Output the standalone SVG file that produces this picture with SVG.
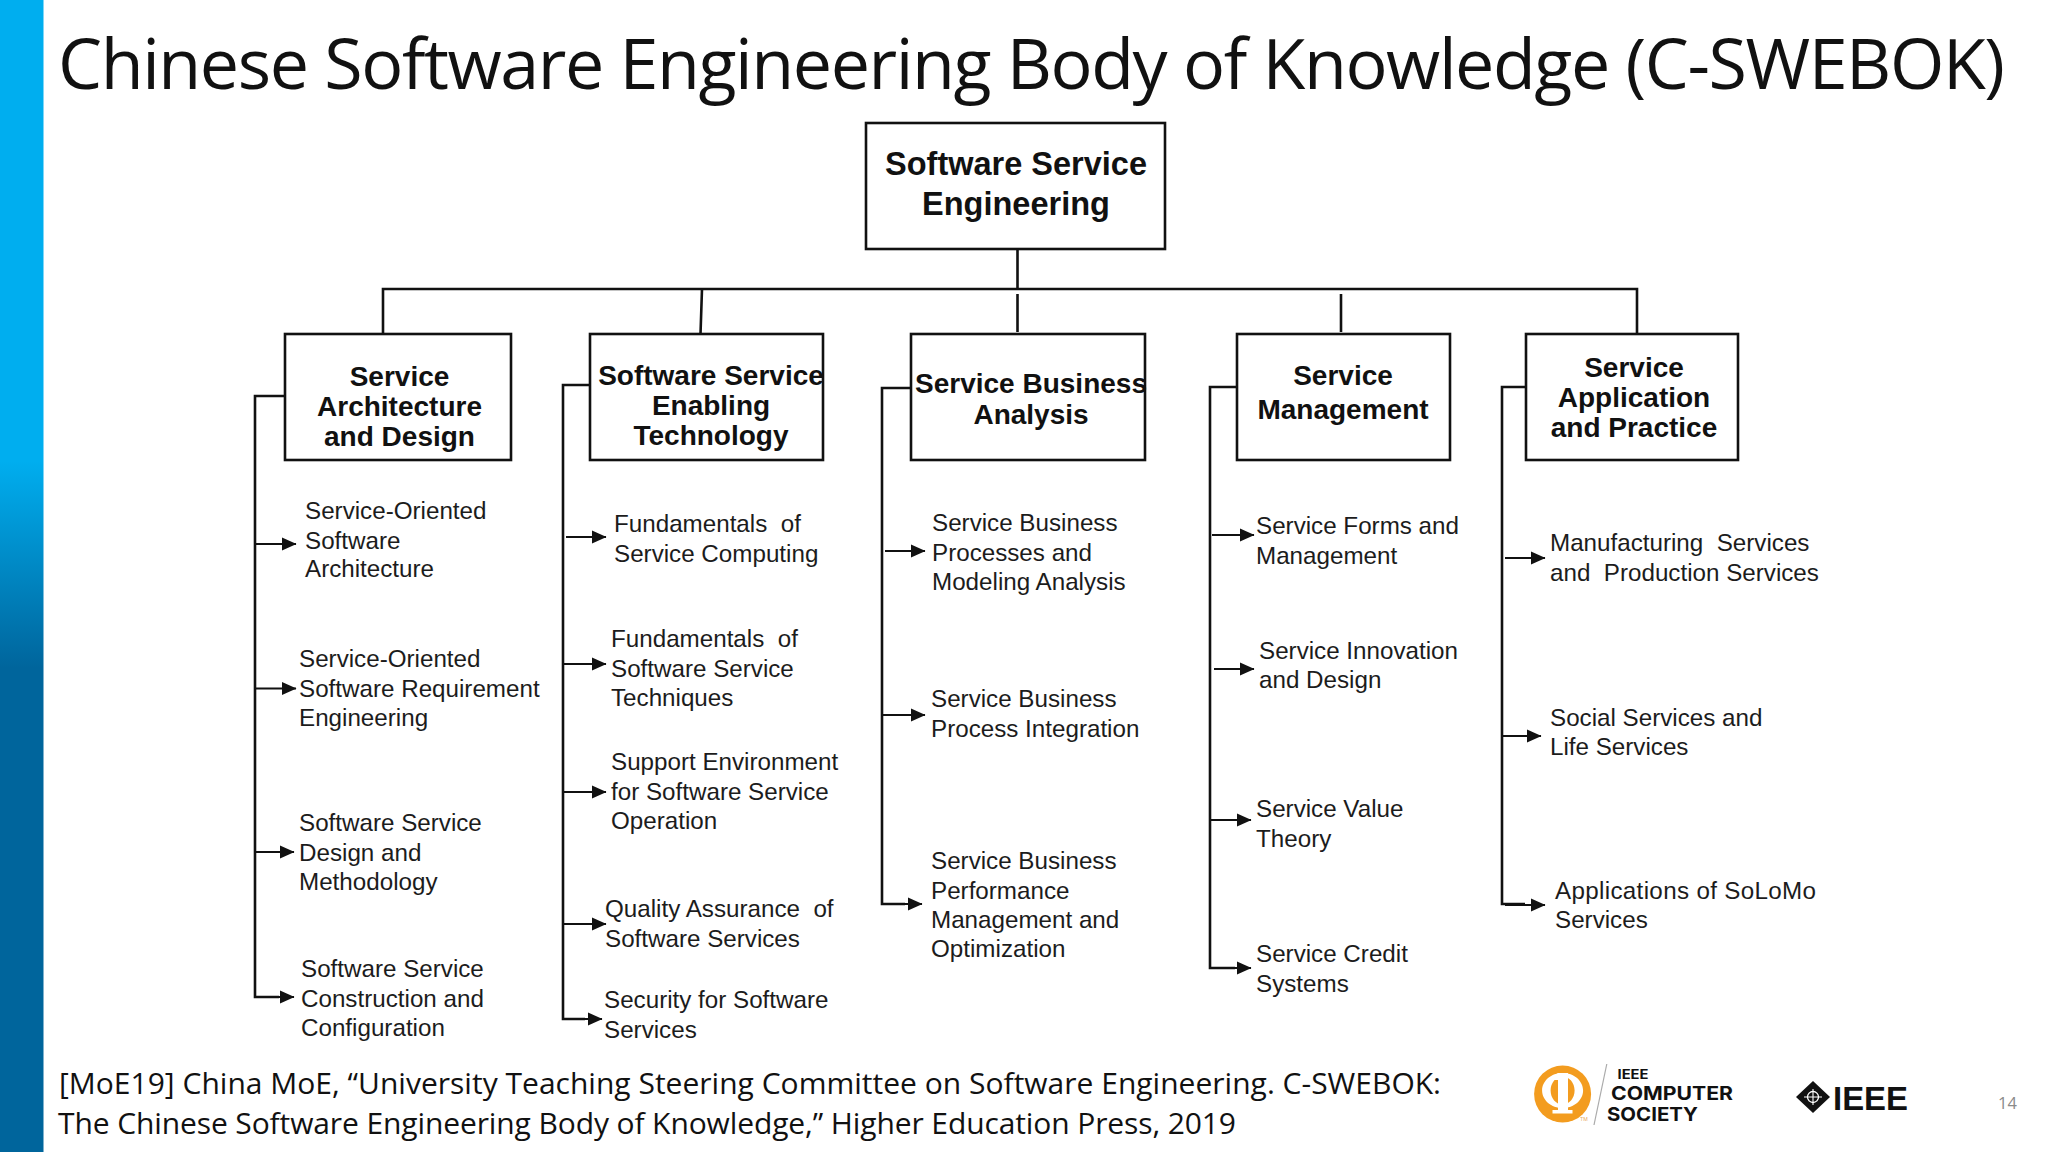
<svg xmlns="http://www.w3.org/2000/svg" width="2048" height="1152" viewBox="0 0 2048 1152">
<style>
.box{fill:#fff;stroke:#111;stroke-width:2.6}
.h{font:bold 28px "Liberation Sans",Arial,sans-serif;fill:#111;text-anchor:middle;transform:translateY(-.5px)}
.r{font-size:32.5px;transform:translateY(.7px)}
.t{font:24.2px "Liberation Sans",Arial,sans-serif;fill:#1c1c1c;white-space:pre;transform:translateY(-.7px)}
.c{fill:none;stroke:#111;stroke-width:2.6}
.a{fill:none;stroke:#111;stroke-width:2.2;marker-end:url(#ah)}
.slide{font-family:"Open Sans",sans-serif;fill:#111}
.logo{font-family:"Inter",sans-serif;font-weight:700;fill:#111}
</style>
<defs>
<linearGradient id="bar" x1="0" y1="0" x2="0" y2="1"><stop offset="0" stop-color="#00aeef"/><stop offset=".4" stop-color="#00aeef"/><stop offset=".58" stop-color="#00659c"/><stop offset="1" stop-color="#00659c"/></linearGradient>
<marker id="ah" markerUnits="userSpaceOnUse" markerWidth="16" markerHeight="14" refX="14" refY="7" orient="auto"><path d="M0 0.5L14.5 7L0 13.5Z" fill="#111"/></marker>
</defs>
<rect width="2048" height="1152" fill="#fff"/>
<rect id="sidebar" width="43.5" height="1152" fill="url(#bar)"/>
<text id="title" class="slide" x="58" y="89" font-size="70" textLength="1947">Chinese Software Engineering Body of Knowledge (C-SWEBOK)</text>
<g id="connectors">
<path class="c" d="M1017.5 249V289M383 334V289H1637V334M702 289L700.5 334M1017.5 294V332M1341 294V332"/>
<path class="c" d="M284 396H255V997H279"/>
<path class="c" d="M589 385H563V1019H585"/>
<path class="c" d="M911 388H882V904H905"/>
<path class="c" d="M1237 387H1210V968H1235"/>
<path class="c" d="M1525 387H1502V904H1525"/>
<path class="a" d="M255 544H296"/><path class="a" d="M255 688.500H296"/><path class="a" d="M255 852H294"/><path class="a" d="M255 997H294"/>
<path class="a" d="M566 537H606"/><path class="a" d="M563 664H606"/><path class="a" d="M563 792H606"/><path class="a" d="M563 924H606"/><path class="a" d="M563 1019H602"/>
<path class="a" d="M885 551H925"/><path class="a" d="M882 715H925"/><path class="a" d="M882 904H922"/>
<path class="a" d="M1212 535H1254"/><path class="a" d="M1214 669H1254"/><path class="a" d="M1210 820H1251"/><path class="a" d="M1210 968H1251"/>
<path class="a" d="M1505 558H1545"/><path class="a" d="M1502 736H1541"/><path class="a" d="M1505 905H1545"/>
</g>
<g id="root"><rect class="box" x="866" y="123" width="299" height="126"/><text class="h r" x="1016" y="174">Software Service</text><text class="h r" x="1016" y="214">Engineering</text></g>
<g id="n1"><rect class="box" x="285" y="334" width="226" height="126"/><text class="h" x="399.500" y="386">Service</text><text class="h" x="399.500" y="416">Architecture</text><text class="h" x="399.500" y="446">and Design</text></g>
<g id="n2"><rect class="box" x="590" y="334" width="233" height="126"/><text class="h" x="711" y="385">Software Service</text><text class="h" x="711" y="415">Enabling</text><text class="h" x="711" y="445">Technology</text></g>
<g id="n3"><rect class="box" x="911" y="334" width="234" height="126"/><text class="h" x="1031" y="393">Service Business</text><text class="h" x="1031" y="424">Analysis</text></g>
<g id="n4"><rect class="box" x="1237" y="334" width="213" height="126"/><text class="h" x="1343" y="385">Service</text><text class="h" x="1343" y="419">Management</text></g>
<g id="n5"><rect class="box" x="1526" y="334" width="212" height="126"/><text class="h" x="1634" y="377">Service</text><text class="h" x="1634" y="407">Application</text><text class="h" x="1634" y="437">and Practice</text></g>
<g id="i11"><text class="t" x="305" y="520">Service-Oriented</text><text class="t" x="305" y="550">Software</text><text class="t" x="305" y="578">Architecture</text></g>
<g id="i12"><text class="t" x="299" y="668">Service-Oriented</text><text class="t" x="299" y="698">Software Requirement</text><text class="t" x="299" y="727">Engineering</text></g>
<g id="i13"><text class="t" x="299" y="832">Software Service</text><text class="t" x="299" y="862">Design and</text><text class="t" x="299" y="891">Methodology</text></g>
<g id="i14"><text class="t" x="301" y="978">Software Service</text><text class="t" x="301" y="1008">Construction and</text><text class="t" x="301" y="1037">Configuration</text></g>
<g id="i21"><text class="t" x="614" y="533">Fundamentals  of</text><text class="t" x="614" y="563">Service Computing</text></g>
<g id="i22"><text class="t" x="611" y="648">Fundamentals  of</text><text class="t" x="611" y="678">Software Service</text><text class="t" x="611" y="707">Techniques</text></g>
<g id="i23"><text class="t" x="611" y="771">Support Environment</text><text class="t" x="611" y="801">for Software Service</text><text class="t" x="611" y="830">Operation</text></g>
<g id="i24"><text class="t" x="605" y="918">Quality Assurance  of</text><text class="t" x="605" y="948">Software Services</text></g>
<g id="i25"><text class="t" x="604" y="1009">Security for Software</text><text class="t" x="604" y="1039">Services</text></g>
<g id="i31"><text class="t" x="932" y="532">Service Business</text><text class="t" x="932" y="562">Processes and</text><text class="t" x="932" y="591">Modeling Analysis</text></g>
<g id="i32"><text class="t" x="931" y="708">Service Business</text><text class="t" x="931" y="738">Process Integration</text></g>
<g id="i33"><text class="t" x="931" y="870">Service Business</text><text class="t" x="931" y="900">Performance</text><text class="t" x="931" y="929">Management and</text><text class="t" x="931" y="958">Optimization</text></g>
<g id="i41"><text class="t" x="1256" y="535">Service Forms and</text><text class="t" x="1256" y="565">Management</text></g>
<g id="i42"><text class="t" x="1259" y="660">Service Innovation</text><text class="t" x="1259" y="689">and Design</text></g>
<g id="i43"><text class="t" x="1256" y="818">Service Value</text><text class="t" x="1256" y="848">Theory</text></g>
<g id="i44"><text class="t" x="1256" y="963">Service Credit</text><text class="t" x="1256" y="993">Systems</text></g>
<g id="i51"><text class="t" x="1550" y="552">Manufacturing  Services</text><text class="t" x="1550" y="582">and  Production Services</text></g>
<g id="i52"><text class="t" x="1550" y="727">Social Services and</text><text class="t" x="1550" y="756">Life Services</text></g>
<g id="i53"><text class="t" x="1555" y="900" textLength="261">Applications of SoLoMo</text><text class="t" x="1555" y="929">Services</text></g>
<g id="footnote"><text class="slide" x="59" y="1094" font-size="30" textLength="1382">[MoE19] China MoE, “University Teaching Steering Committee on Software Engineering. C-SWEBOK:</text><text class="slide" x="58" y="1134" font-size="30" textLength="1178">The Chinese Software Engineering Body of Knowledge,” Higher Education Press, 2019</text></g>
<g id="logo-cs">
<circle cx="1562.6" cy="1094" r="28.5" fill="#f39c1f"/>
<path fill-rule="evenodd" d="M1562.600 1073c11.300 0 20.500 7.800 20.500 17.500s-9.200 17.500-20.500 17.500s-20.500-7.800-20.500-17.500s9.200-17.500 20.500-17.500zM1562.600 1076.500c-6.600 0-12 6.300-12 14s5.400 14 12 14s12-6.300 12-14s-5.400-14-12-14z" fill="#fff"/>
<path d="M1553 1077l5-4h10v37h4.500v3.500h-20v-3.500h5.500v-30h-3z" fill="#fff"/>
<path d="M1606.800 1064L1594 1125" stroke="#aaa" stroke-width="1.2"/>
<text x="1580" y="1121" font-family="Inter,sans-serif" font-size="5" fill="#e8a85a">TM</text>
<text class="logo" x="1617.500" y="1079" font-size="13" font-weight="800" textLength="31" lengthAdjust="spacingAndGlyphs">IEEE</text>
<text class="logo" x="1611" y="1099.500" font-size="18.500" textLength="122" lengthAdjust="spacingAndGlyphs">COMPUTER</text>
<text class="logo" x="1607" y="1120.500" font-size="19" textLength="91" lengthAdjust="spacingAndGlyphs">SOCIETY</text>
</g>
<g id="logo-ieee">
<path d="M1813 1081L1830 1097L1813 1113L1796 1097Z" fill="#111"/>
<ellipse cx="1813" cy="1097" rx="5.500" ry="5.500" fill="none" stroke="#fff" stroke-width="1.300"/>
<path d="M1813 1089V1105M1804 1097H1822" stroke="#fff" stroke-width="1.100" fill="none"/>
<text x="1833" y="1110" font-family="Liberation Sans,sans-serif" font-weight="700" font-size="34" textLength="75" lengthAdjust="spacingAndGlyphs" fill="#111">IEEE</text>
</g>
<text id="page" class="slide" x="1998" y="1109" font-size="16.500" style="fill:#8a8a8a">14</text>
</svg>
